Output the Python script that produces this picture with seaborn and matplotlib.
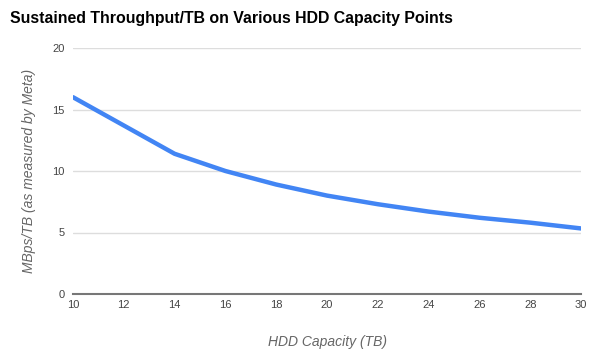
import matplotlib
matplotlib.use("Agg")
import matplotlib.pyplot as plt
import seaborn as sns
import pandas as pd

capacity_tb = [10, 14, 16, 18, 20, 22, 24, 26, 28, 30]
mbps_per_tb = [16.0, 11.4, 10.0, 8.9, 8.0, 7.3, 6.7, 6.2, 5.8, 5.33]
x_ticks = [10, 12, 14, 16, 18, 20, 22, 24, 26, 28, 30]
y_ticks = [0, 5, 10, 15, 20]

df = pd.DataFrame({"cap": capacity_tb, "val": mbps_per_tb})

sns.set_theme(style="white")
plt.rcParams['font.family'] = ['Liberation Sans', 'DejaVu Sans']

fig = plt.figure(figsize=(5.95, 3.53), dpi=100)
ax = fig.add_axes([73/595, 1-294/353, (581-73)/595, (294-48)/353])

sns.lineplot(data=df, x="cap", y="val", ax=ax, color="#4285f4", linewidth=3.2)

ax.set_xlim(10, 30)
ax.set_ylim(0, 20)
ax.set_xticks(x_ticks)
ax.set_yticks(y_ticks)
ax.yaxis.grid(True, color="#dddddd", linewidth=1)
ax.set_axisbelow(True)
for s in ["top", "right", "left"]:
    ax.spines[s].set_visible(False)
ax.spines["bottom"].set_color("#777777")
ax.spines["bottom"].set_linewidth(1.5)
ax.tick_params(axis="x", direction="in", length=4, color="#aaaaaa", labelsize=8, labelcolor="#444444", pad=4)
ax.tick_params(axis="y", length=0, labelsize=8, labelcolor="#444444", pad=6)

ax.set_xlabel("HDD Capacity (TB)", fontsize=10, style="italic", color="#666666", labelpad=18)
ax.set_ylabel("MBps/TB (as measured by Meta)", fontsize=10, style="italic", color="#666666", labelpad=12)

fig.text(10/595, 1-18/353, "Sustained Throughput/TB on Various HDD Capacity Points",
         fontsize=11.4, fontweight="bold", color="#000000", va="center", ha="left")

fig.savefig("out.png", dpi=100)
